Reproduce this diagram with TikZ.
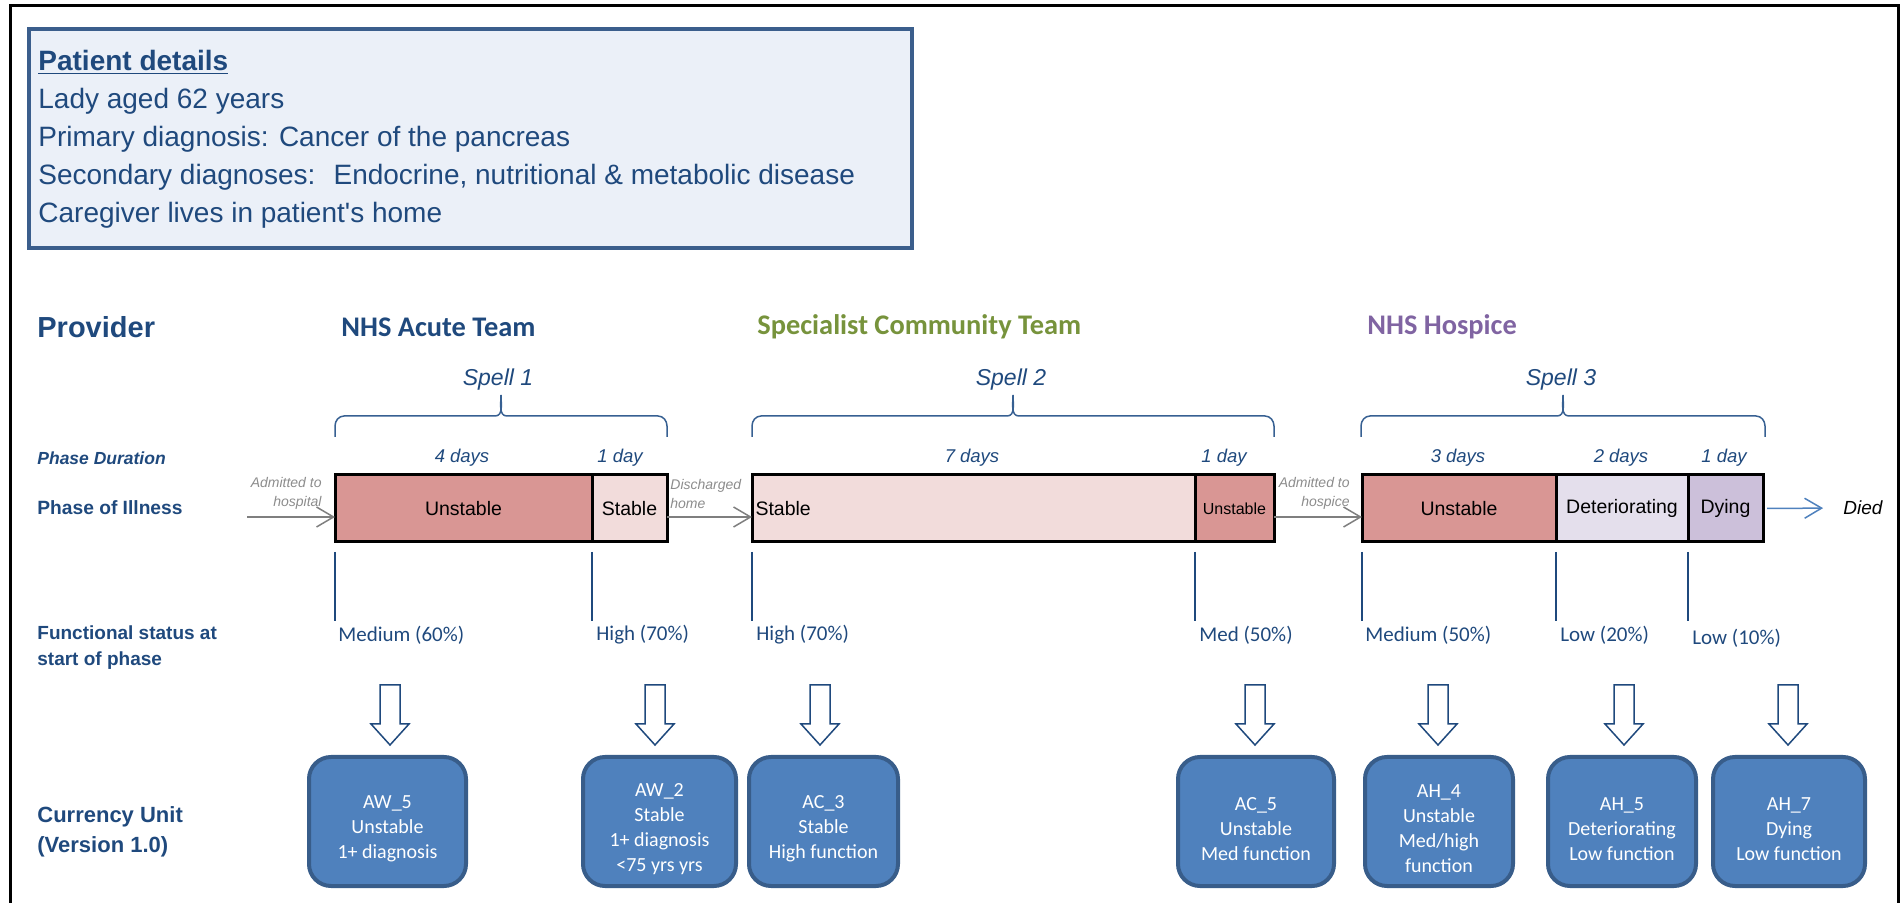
\documentclass[tikz,border=0pt]{standalone}
\usepackage{fontspec}
\setmainfont{Liberation Sans}
\newfontfamily\calibri{Carlito}
\usepackage{tikz}
\usetikzlibrary{arrows.meta,positioning,calc}

\definecolor{txtblue}{RGB}{31,73,125}
\definecolor{patfill}{RGB}{235,240,248}
\definecolor{patline}{RGB}{59,94,140}
\definecolor{unstab}{RGB}{217,150,148}
\definecolor{stab}{RGB}{242,220,219}
\definecolor{deter}{RGB}{228,223,236}
\definecolor{dying}{RGB}{204,192,218}
\definecolor{commgreen}{RGB}{119,147,60}
\definecolor{hospurple}{RGB}{128,100,162}
\definecolor{unitfill}{RGB}{79,129,189}
\definecolor{unitline}{RGB}{56,93,138}
\definecolor{notegray}{RGB}{140,140,140}
\definecolor{arrgray}{RGB}{127,127,127}
\definecolor{bracecol}{RGB}{55,96,146}
\newcommand\ustrut{\rule{0pt}{14pt}}

\begin{document}
\begin{tikzpicture}[
  x=0.5pt,y=-0.5pt,
  lbl/.style={anchor=west,inner sep=0pt,align=left,text=txtblue,font=\bfseries\fontsize{9.5pt}{13pt}\selectfont},
  prov/.style={anchor=west,inner sep=0pt,font=\calibri\bfseries\fontsize{14.2pt}{16pt}\selectfont},
  spelltxt/.style={inner sep=0pt,text=txtblue,font=\itshape\fontsize{11.5pt}{13pt}\selectfont},
  dur/.style={inner sep=0pt,text=txtblue,font=\itshape\fontsize{9.25pt}{11pt}\selectfont},
  phasebox/.style={draw=black,line width=1.5pt,anchor=west,outer sep=0pt,inner sep=0pt,minimum height=33.5pt,font=\fontsize{9.75pt}{11pt}\selectfont},
  note/.style={inner sep=0pt,text=notegray,font=\itshape\fontsize{7pt}{9.5pt}\selectfont},
  stat/.style={anchor=west,inner sep=0pt,text=txtblue,font=\calibri\fontsize{10.5pt}{12pt}\selectfont},
  unit/.style={draw=unitline,fill=unitfill,line width=2pt,rounded corners=11pt,minimum width=76pt,minimum height=64.5pt,align=center,text=white,font=\calibri\fontsize{10pt}{12.5pt}\selectfont},
  hollow/.style={draw=txtblue,fill=white,line width=0.75pt},
  tick/.style={draw=txtblue,line width=1pt},
  brc/.style={draw=bracecol,line width=0.75pt},
  grayarr/.style={draw=arrgray,line width=0.75pt,-{Straight Barb[length=8.5pt,width=10pt]}},
  diedarr/.style={draw=unitfill,line width=0.75pt,-{Straight Barb[length=8.5pt,width=10pt]}}
]
\useasboundingbox (0,0) rectangle (1903,903);
\draw[line width=1.5pt] (10,920) -- (10,6) -- (1898,6) -- (1898,920);

% patient details
\node[draw=patline,fill=patfill,line width=2pt,minimum width=441.5pt,minimum height=109.5pt,inner sep=0pt] (pat) at (470.5,138.5) {};
\node[anchor=west,inner sep=0pt,align=left,text=txtblue,font=\fontsize{14pt}{19pt}\selectfont] (pattxt) at (38,139)
  {\textbf{\underline{Patient details}}\\Lady aged 62 years\\Primary diagnosis: Cancer of the pancreas\\Secondary diagnoses:~ Endocrine, nutritional \& metabolic disease\\Caregiver lives in patient\textquotesingle s home};

% row labels
\node[lbl,font=\bfseries\fontsize{14.5pt}{16pt}\selectfont] (provl) at (37,327) {Provider};
\node[lbl,font=\bfseries\itshape\fontsize{8.75pt}{10pt}\selectfont] (durl) at (37,458) {Phase Duration};
\node[lbl,font=\bfseries\fontsize{9.6pt}{11pt}\selectfont] (illl) at (37,508) {Phase of Illness};
\node[lbl] (funcl) at (37,648) {Functional status at\\start of phase};
\node[lbl,font=\bfseries\fontsize{11pt}{15pt}\selectfont] (curl) at (37,832) {Currency Unit\\(Version 1.0)};

% providers
\node[prov,text=txtblue] (acute) at (341,327) {NHS Acute Team};
\node[prov,text=commgreen] (comm) at (757,327) {Specialist Community Team};
\node[prov,text=hospurple] (hosp) at (1367,327) {NHS Hospice};

% spells
\node[spelltxt] (sp1) at (498,380) {Spell 1};
\node[spelltxt] (sp2) at (1011,380) {Spell 2};
\node[spelltxt] (sp3) at (1561,380) {Spell 3};
\foreach \a/\b in {335/667,752/1274,1361/1765}{
  \pgfmathsetmacro\m{(\a+\b)/2}
  \draw[brc] (\a,437) -- (\a,426) to[out=90,in=180] (\a+9,416) -- (\m-6,416) to[out=0,in=-90] (\m,395)
    to[out=-90,in=180] (\m+6,416) -- (\b-9,416) to[out=0,in=90] (\b,426) -- (\b,437);
}

% durations
\node[dur] (d1a) at (462,458) {4 days};
\node[dur] (d1b) at (620,458) {1 day};
\node[dur] (d2a) at (972,458) {7 days};
\node[dur] (d2b) at (1224,458) {1 day};
\node[dur] (d3a) at (1458,458) {3 days};
\node[dur] (d3b) at (1621,458) {2 days};
\node[dur] (d3c) at (1724,458) {1 day};

% phase bar
\node[phasebox,fill=unstab,minimum width=128.5pt] (p1a) at (335,508.5) {Unstable};
\node[phasebox,fill=stab,minimum width=37.5pt] (p1b) at (p1a.east) {Stable};
\node[phasebox,fill=stab,minimum width=221.5pt,text width=218pt,inner xsep=1.5pt,align=left] (p2a) at (752,508.5) {Stable};
\node[phasebox,fill=unstab,minimum width=39.5pt,font=\fontsize{8pt}{9pt}\selectfont] (p2b) at (p2a.east) {Unstable};
\node[phasebox,fill=unstab,minimum width=97pt] (p3a) at (1362,508.5) {Unstable};
\node[phasebox,fill=deter,minimum width=66pt] (p3b) at (p3a.east) {Deteriorating};
\node[phasebox,fill=dying,minimum width=37.5pt] (p3c) at (p3b.east) {Dying};

% transfers
\coordinate (arrrow) at (0,517);
\coordinate (hospin) at (247,517);
\draw[grayarr] (hospin) -- (p1a.west |- arrrow);
\draw[grayarr] (p1b.east |- arrrow) -- (p2a.west |- arrrow);
\draw[grayarr] (p2b.east |- arrrow) -- (p3a.west |- arrrow);
\node[note,align=right,anchor=east] (n1) at (322,493.5) {Admitted to\\hospital};
\node[note,align=left,anchor=west] (n2) at (670,493.5) {Discharged\\home};
\node[note,align=right,anchor=east] (n3) at (1350,493.5) {Admitted to\\hospice};
\node[inner sep=0pt,font=\itshape\fontsize{9.5pt}{11pt}\selectfont] (died) at (1863,508) {Died};
\draw[diedarr,shorten <=2pt,shorten >=10pt] (p3c.east) -- (died.west);

% functional status
\foreach \n in {p1a,p1b,p2a,p2b,p3a,p3b,p3c}
  \draw[tick] ($(\n.south west)+(0,10)$) -- ++(0,69);
\node[stat] (f1a) at (338,635) {Medium (60\%)};
\node[stat] (f1b) at (596,635) {High (70\%)};
\node[stat] (f2a) at (756,635) {High (70\%)};
\node[stat] (f2b) at (1199,635) {Med (50\%)};
\node[stat] (f3a) at (1365,635) {Medium (50\%)};
\node[stat] (f3b) at (1560,635) {Low (20\%)};
\node[stat] (f3c) at (1692,638) {Low (10\%)};

% currency units
\node[unit,minimum width=78.5pt] (aw5) at (387.5,821.5) {\ustrut AW\_5\\Unstable\\1+ diagnosis};
\node[unit,minimum width=76.5pt] (aw2) at (659.5,821.5) {\ustrut AW\_2\\Stable\\1+ diagnosis\\<75 yrs yrs};
\node[unit,minimum width=74.5pt] (ac3) at (823.5,821.5) {\ustrut AC\_3\\Stable\\High function};
\node[unit,minimum width=78pt] (ac5) at (1256,821.5) {\ustrut AC\_5\\Unstable\\Med function};
\node[unit,minimum width=74pt] (ah4) at (1439,821.5) {\ustrut AH\_4\\Unstable\\Med/high\\function};
\node[unit,minimum width=74pt] (ah5) at (1622,821.5) {\ustrut AH\_5\\Deteriorating\\Low function};
\node[unit] (ah7) at (1789,821.5) {\ustrut AH\_7\\Dying\\Low function};
\foreach \u/\dx in {aw5/2.5,aw2/-4.5,ac3/-3.5,ac5/-1,ah4/-1,ah5/2,ah7/-1}
  \draw[hollow,shift={($(\u.north)+(\dx,0)$)}] (-10,-70) -- (10,-70) -- (10,-31) -- (19,-31) -- (0,-10) -- (-19,-31) -- (-10,-31) -- cycle;
\end{tikzpicture}
\end{document}
